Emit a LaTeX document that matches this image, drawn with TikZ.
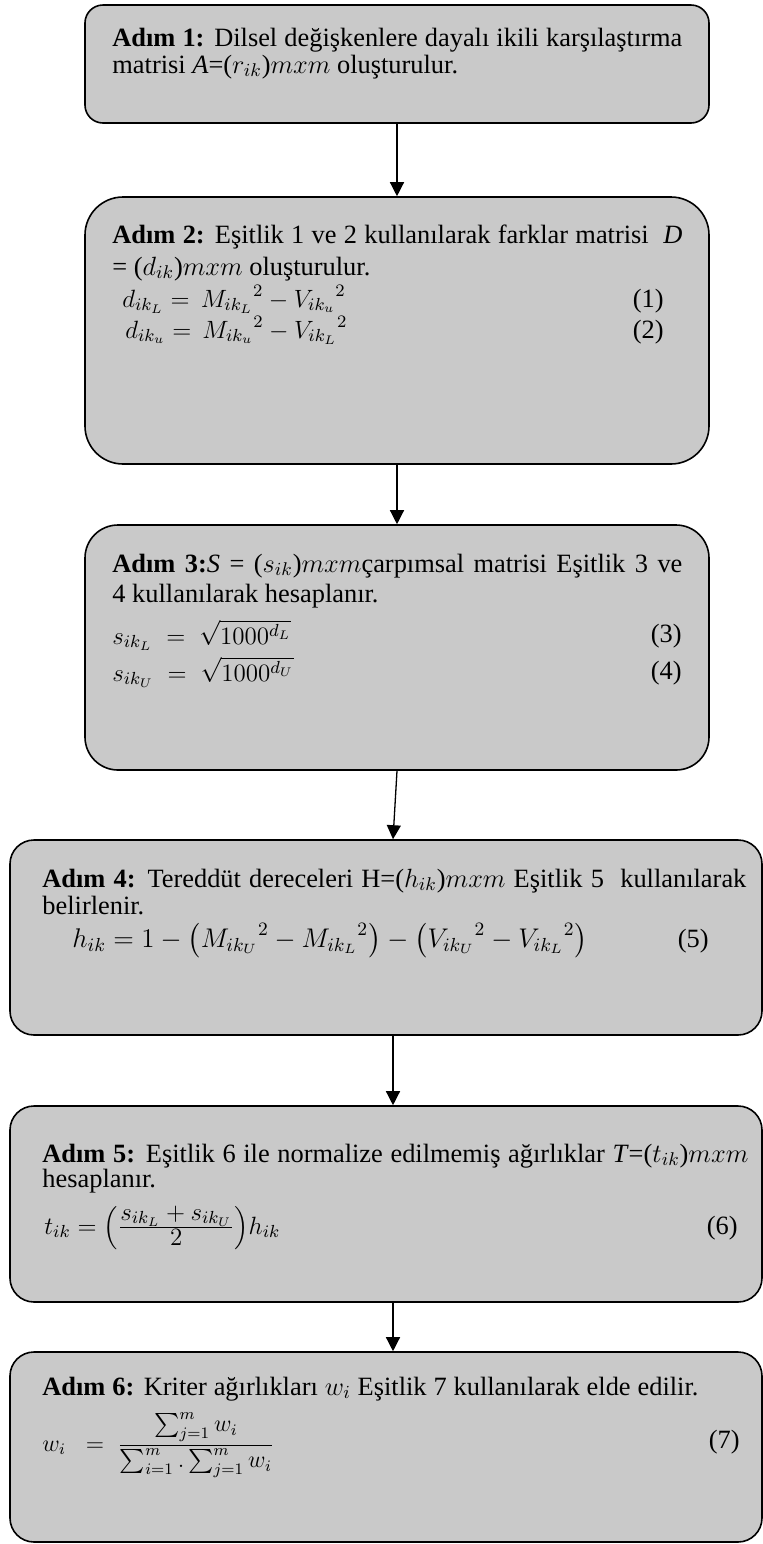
\documentclass[tikz,border=0pt]{standalone}
\usepackage{fix-cm}
\usepackage{amsmath}
\usepackage{fontspec}
\setmainfont{Liberation Serif}
\usetikzlibrary{arrows.meta}
\definecolor{boxgray}{RGB}{201,201,201}
\tikzset{
  stepbox/.style={draw=black, line width=0.8pt, fill=boxgray, rounded corners=#1, inner sep=0pt},
  txt/.style={anchor=base west, inner sep=0pt, font=\fontsize{13.2}{15}\selectfont},
  eqn/.style={anchor=base west, inner sep=0pt, font=\fontsize{12.5}{15}\selectfont},
  num/.style={anchor=base east, inner sep=0pt, font=\fontsize{13.2}{15}\selectfont},
  arr/.style={line width=0.65pt, -{Triangle[width=7pt,length=7pt]}},
}
\begin{document}
\begin{tikzpicture}[x=0.5pt,y=-0.5pt]
\useasboundingbox (0,0) rectangle (763,1544);
% boxes
\node[stepbox=9pt, minimum width=312pt, minimum height=59pt] (b1) at (397,64) {};
\node[stepbox=19pt, minimum width=312pt, minimum height=133.5pt] (b2) at (397,330.5) {};
\node[stepbox=16.5pt, minimum width=312pt, minimum height=122.5pt] (b3) at (397,647.5) {};
\node[stepbox=12pt, minimum width=376pt, minimum height=97.5pt] (b4) at (386,937.5) {};
\node[stepbox=12pt, minimum width=376pt, minimum height=98pt] (b5) at (386,1204) {};
\node[stepbox=12pt, minimum width=376pt, minimum height=95pt] (b6) at (386,1447) {};
% arrows
\draw[arr] (b1.south) -- (b2.north);
\draw[arr] (b2.south) -- (b3.north);
\draw[arr] (b3.south) -- ([xshift=3.5pt]b4.north);
\draw[arr] ([xshift=3.5pt]b4.south) -- ([xshift=3.5pt]b5.north);
\draw[arr] ([xshift=3.5pt]b5.south) -- ([xshift=3.5pt]b6.north);
% box 1
\node[txt] (t1a) at (112,46) {\makebox[285pt][s]{\textbf{Adım 1:} Dilsel değişkenlere dayalı ikili karşılaştırma}};
\node[txt] (t1b) at (112,73) {matrisi \textit{A}=($r_{ik}$)$mxm$ oluşturulur.};
% box 2
\node[txt] (t2a) at (112,243) {\makebox[285pt][s]{\textbf{Adım 2:} Eşitlik 1 ve 2 kullanılarak farklar matrisi \ \textit{D}}};
\node[txt] (t2b) at (112,275) {= ($d_{ik}$)$mxm$ oluşturulur.};
\node[eqn] (e1) at (122,307) {$d_{ik_L} = \, {M_{ik_L}}^{2} - {V_{ik_u}}^{2}$};
\node[num] (n1) at (664,307) {(1)};
\node[eqn] (e2) at (125,338) {$d_{ik_u} = \, {M_{ik_u}}^{2} - {V_{ik_L}}^{2}$};
\node[num] (n2) at (664,338) {(2)};
% box 3
\node[txt] (t3a) at (112,572) {\makebox[285pt][s]{\textbf{Adım 3:}\textit{S} = ($s_{ik}$)$mxm$çarpımsal matrisi Eşitlik 3 ve}};
\node[txt] (t3b) at (112,602) {4 kullanılarak hesaplanır.};
\node[eqn] (e3) at (112,644) {$s_{ik_L}\;=\;\sqrt{1000^{d_L}}$};
\node[num] (n3) at (682,642) {(3)};
\node[eqn] (e4) at (112,681) {$s_{ik_U}\;=\;\sqrt{1000^{d_U}}$};
\node[num] (n4) at (682,679) {(4)};
% box 4
\node[txt] (t4a) at (42,887) {\makebox[352pt][s]{\textbf{Adım 4:} Tereddüt dereceleri H=($h_{ik}$)$mxm$ Eşitlik 5 \ kullanılarak}};
\node[txt] (t4b) at (42,914) {belirlenir.};
\node[eqn, font=\fontsize{13.5}{16}\selectfont] (e5) at (72,947) {$h_{ik} = 1 - \bigl({M_{ik_U}}^{2} - {M_{ik_L}}^{2}\bigr) - \bigl({V_{ik_U}}^{2} - {V_{ik_L}}^{2}\bigr)$};
\node[num] (n5) at (709,947) {(5)};
% box 5
\node[txt] (t5a) at (42,1162) {\makebox[353pt][s]{\textbf{Adım 5:} Eşitlik 6 ile normalize edilmemiş ağırlıklar \textit{T}=($t_{ik}$)$mxm$}};
\node[txt] (t5b) at (42,1187) {hesaplanır.};
\node[eqn] (e6) at (44,1234) {$t_{ik} = \Bigl(\frac{\textstyle s_{ik_L} + s_{ik_U}}{\textstyle 2}\Bigr) h_{ik}$};
\node[num] (n6) at (738,1234) {(6)};
% box 6
\node[txt] (t6a) at (42,1395) {\makebox[328pt][s]{\textbf{Adım 6:} Kriter ağırlıkları $w_i$ Eşitlik 7 kullanılarak elde edilir.}};
\node[eqn, font=\fontsize{12}{14}\selectfont] (e7) at (42,1451) {$w_i\;\;=\;\dfrac{\textstyle\sum_{j=1}^{m} w_i}{\textstyle\sum_{i=1}^{m}.\sum_{j=1}^{m} w_i}$};
\node[num] (n7) at (740,1448) {(7)};
\end{tikzpicture}
\end{document}
